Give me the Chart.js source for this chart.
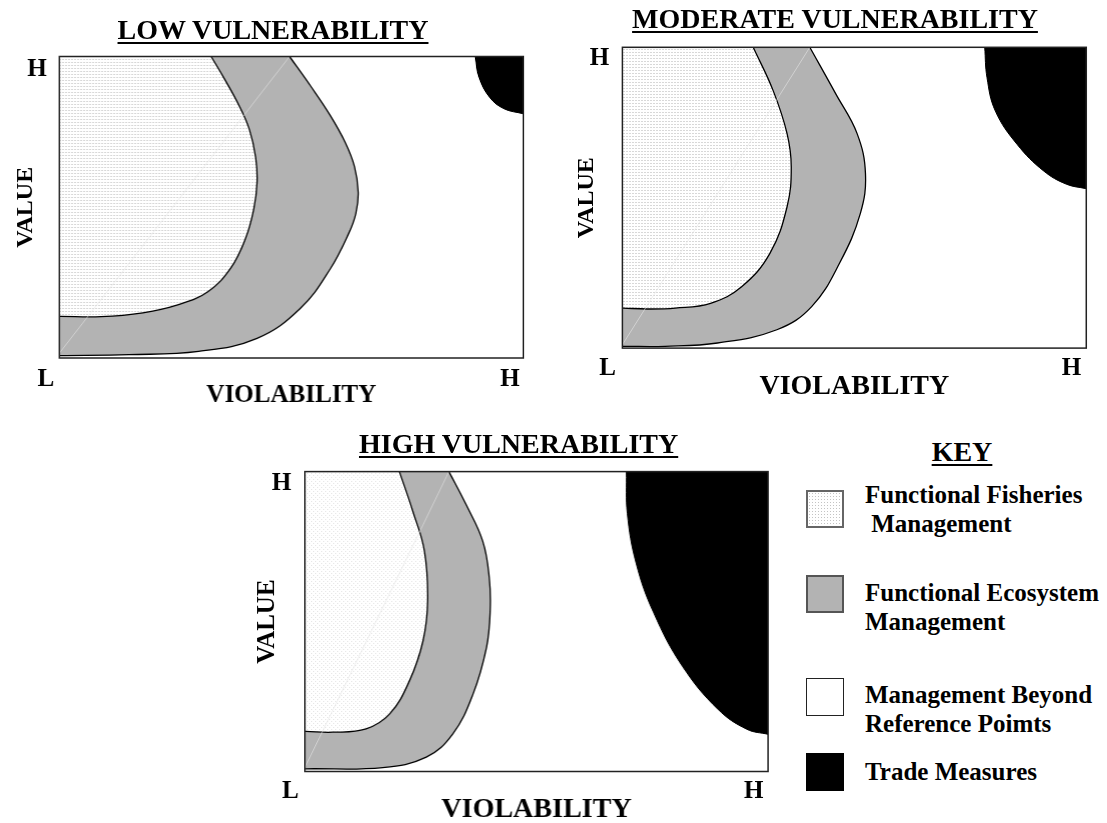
<!DOCTYPE html>
<html>
<head>
<meta charset="utf-8">
<script src="https://cdn.jsdelivr.net/npm/chart.js@4.4.1/dist/chart.umd.min.js"></script>
<style>
  html, body { margin: 0; padding: 0; background: #fff; overflow: hidden; }
  #page { position: relative; width: 1107px; height: 823px; background: #fff; overflow: hidden; }
  #page canvas { position: absolute; }
  .ttl { position: absolute; font: bold 28px/28px "Liberation Serif", "Times New Roman", serif; color: #000;
         text-decoration: underline; text-decoration-thickness: 2px; text-underline-offset: 3px;
         transform: translateX(-50%); white-space: nowrap; }
  .key { position: absolute; font: bold 25px/25px "Liberation Serif", "Times New Roman", serif; color: #000; white-space: pre; }
  .sw { position: absolute; box-sizing: border-box; width: 38px; height: 38px; }
</style>
</head>
<body>
<div id="page"></div>
<script>
// tick labels
const xTickValues = [0, 100];
const xTickLabels = ['L', 'H'];
const yTickValues = [100];
const yTickLabels = ['H'];

// panel titles
const panelTitles = ['LOW VULNERABILITY', 'MODERATE VULNERABILITY', 'HIGH VULNERABILITY'];

// boundaries, [violability, value] on a 0-100 scale
// inner = fisheries / ecosystem edge, outer = ecosystem / beyond edge, trade = trade measures edge
const lowInner = [[32.7,100],[35.6,92.5],[38.8,83.5],[41.0,75.5],[42.3,66.5],[42.6,58.3],[41.9,49.5],[40.1,39.6],[37.0,30.0],[32.0,22.0],[25.5,17.6],[18.0,15.0],[9.0,13.7],[0.2,13.8]];
const lowOuter = [[49.6,100],[54.1,90.3],[58.4,80.4],[61.6,71.5],[63.6,63.5],[64.4,55.0],[63.9,48.0],[62.4,41.5],[58.4,29.6],[51.9,16.4],[42.6,6.5],[30.0,2.2],[15.0,1.1],[0.2,0.8]];
const lowTrade = [[89.6,100],[90.4,93.2],[92.7,86.5],[95.8,82.7],[100,81.0]];

const modInner = [[28.2,100],[32.5,85.6],[35.5,71.3],[36.4,60.2],[35.5,47.0],[31.8,31.5],[25.7,20.4],[19.0,14.9],[11.4,13.3],[5.4,13.0],[0.2,13.3]];
const modOuter = [[40.4,100],[46.0,84.5],[50.6,71.3],[52.4,58.0],[51.3,44.8],[46.8,28.2],[40.8,13.8],[33.3,6.1],[20.5,1.7],[9.2,0.6],[0.2,0.6]];
const modTrade = [[78.1,100],[78.6,89.9],[80.4,78.8],[85.1,67.7],[90.8,58.9],[95.7,54.5],[100,53.0]];

const highInner = [[20.4,100],[23.3,86.8],[25.8,73.5],[26.5,56.9],[25.5,43.6],[22.6,30.3],[18.3,19.2],[13.2,14.2],[6.0,13.1],[0.2,13.4]];
const highOuter = [[31.1,100],[34.8,89.0],[38.4,76.8],[39.8,64.6],[40.0,53.6],[39.2,41.3],[36.3,25.8],[31.9,12.5],[26.2,4.8],[16.8,1.3],[0.2,0.9]];
const highTrade = [[69.4,100],[69.6,86.1],[71.5,69.5],[75.3,52.9],[81.5,35.1],[89.2,20.7],[95.4,14.1],[100,12.4]];

// key
const keyLabels = [['Functional Fisheries', ' Management'], ['Functional Ecosystem', 'Management'],
                   ['Management Beyond', 'Reference Poimts'], ['Trade Measures']];

const GREY = '#b3b3b3';
const SERIF = '"Liberation Serif", "Times New Roman", serif';
const page = document.getElementById('page');

function tile(w, h, color, cells) {
    const c = document.createElement('canvas');
    c.width = w; c.height = h;
    const g = c.getContext('2d');
    g.fillStyle = '#fff'; g.fillRect(0, 0, w, h);
    g.fillStyle = color;
    cells.forEach(([x, y]) => g.fillRect(x, y, 1, 1));
    return c;
}

const pt = ([x, y]) => ({x, y});
// push a curve end a little past the frame so the clip makes the edge
function ext(a, b) { return {x: a[0] + (a[0] - b[0]) * 0.6, y: a[1] + (a[1] - b[1]) * 0.6}; }

function leftShape(curve) {
    const n = curve.length;
    const top = ext(curve[0], curve[1]);
    const left = ext(curve[n - 1], curve[n - 2]);
    return [{x: -25, y: 130}, top, ...curve.map(pt), left, {x: -25, y: left.y}];
}
function tradeShape(curve) {
    const n = curve.length;
    const top = ext(curve[0], curve[1]);
    const right = ext(curve[n - 1], curve[n - 2]);
    return [top, ...curve.map(pt), right, {x: 125, y: right.y}, {x: 125, y: 130}];
}

const framePlugin = {
    id: 'frame',
    afterDatasetsDraw(chart) {
        const a = chart.chartArea, ctx = chart.ctx;
        ctx.save();
        ctx.strokeStyle = '#222';
        ctx.lineWidth = 1.5;
        ctx.strokeRect(a.left, a.top, a.right - a.left, a.bottom - a.top);
        ctx.restore();
    }
};

function makeConfig(p) {
    const font = size => ({family: SERIF, weight: 'bold', size});
    return {
        type: 'line',
        data: {
            datasets: [
                {data: tradeShape(p.trade), fill: 'shape', backgroundColor: '#000', borderColor: '#000', borderWidth: 1, order: 0},
                {data: [{x: 0, y: p.diag}, {x: p.outer[0][0], y: 100}], fill: false, tension: 0,
                 borderColor: 'rgba(230,230,230,0.6)', borderWidth: 1, order: 1},
                {data: leftShape(p.inner), fill: 'shape', backgroundColor: p.pattern, borderColor: '#000', borderWidth: 1.3, order: 2},
                {data: leftShape(p.outer), fill: 'shape', backgroundColor: GREY, borderColor: '#000', borderWidth: 1.3, order: 3}
            ]
        },
        options: {
            responsive: false,
            animation: false,
            events: [],
            layout: {padding: 0},
            elements: {
                point: {radius: 0},
                line: {tension: 0.4, capBezierPoints: false}
            },
            datasets: {line: {clip: 0}},
            plugins: {legend: {display: false}, tooltip: {enabled: false}},
            scales: {
                x: {
                    type: 'linear', min: 0, max: 100,
                    grid: {display: false, drawTicks: false},
                    border: {display: false},
                    afterBuildTicks: s => { s.ticks = xTickValues.map(v => ({value: v})); },
                    afterFit: s => { s.height = p.hx; },
                    ticks: {padding: p.tickPad, labelOffset: p.xOff, font: font(25), color: '#000',
                            autoSkip: false, maxRotation: 0, callback: (v, i) => xTickLabels[i]},
                    title: {display: true, text: 'VIOLABILITY', font: font(p.axisFont), color: '#000', padding: 0}
                },
                y: {
                    type: 'linear', min: 0, max: 100,
                    grid: {display: false, drawTicks: false},
                    border: {display: false},
                    afterBuildTicks: s => { s.ticks = yTickValues.map(v => ({value: v})); },
                    afterFit: s => { s.width = p.yw; },
                    ticks: {padding: p.yGap, labelOffset: p.yOff, font: font(25), color: '#000',
                            autoSkip: false, callback: (v, i) => yTickLabels[i]},
                    title: {display: true, text: 'VALUE', font: font(p.valueFont), color: '#000', padding: 0}
                }
            }
        },
        plugins: [framePlugin]
    };
}

function drawPanel(p) {
    let w = p.w + 120, h = p.h + 120;
    let canvas, chart;
    for (let pass = 0; pass < 2; pass++) {
        if (chart) { chart.destroy(); canvas.remove(); }
        canvas = document.createElement('canvas');
        canvas.width = w; canvas.height = h;
        canvas.style.width = w + 'px'; canvas.style.height = h + 'px';
        page.appendChild(canvas);
        chart = new Chart(canvas, makeConfig(p));
        const a = chart.chartArea;
        w += p.w - (a.right - a.left);
        h += p.h - (a.bottom - a.top);
    }
    const a = chart.chartArea;
    canvas.style.left = (p.x - a.left) + 'px';
    canvas.style.top = (p.y - a.top) + 'px';
}

const densePattern = tile(3, 3, '#d8d8d8', [[0, 0], [1, 0]]);
const sparsePattern = tile(4, 4, '#e4e4e4', [[0, 0], [2, 2]]);
const ctx0 = document.createElement('canvas').getContext('2d');

const panels = [
    {x: 59, y: 56, w: 464, h: 302, inner: lowInner, outer: lowOuter, trade: lowTrade, diag: 1.6,
     pattern: ctx0.createPattern(densePattern, 'repeat'),
     tickPad: 6.9, xOff: -13.4, yOff: 13, yGap: 12.5, yw: 48.3, hx: 53, axisFont: 25, valueFont: 24,
     titleX: 273, titleY: 15.5},
    {x: 622, y: 47, w: 464, h: 301, inner: modInner, outer: modOuter, trade: modTrade, diag: 1.1,
     pattern: ctx0.createPattern(densePattern, 'repeat'),
     tickPad: 5, xOff: -14.9, yOff: 11.7, yGap: 13.3, yw: 50.4, hx: 55.9, axisFont: 28, valueFont: 24,
     titleX: 835, titleY: 4.5},
    {x: 305, y: 472, w: 463, h: 300, inner: highInner, outer: highOuter, trade: highTrade, diag: 1.3,
     pattern: ctx0.createPattern(sparsePattern, 'repeat'),
     tickPad: 5.2, xOff: -14.4, yOff: 11.6, yGap: 13.6, yw: 51.8, hx: 55.5, axisFont: 28, valueFont: 25,
     titleX: 518.6, titleY: 430}
];

Chart.defaults.font.family = SERIF;
panels.forEach((p, i) => {
    drawPanel(p);
    const t = document.createElement('div');
    t.className = 'ttl';
    t.textContent = panelTitles[i];
    t.style.left = p.titleX + 'px';
    t.style.top = p.titleY + 'px';
    page.appendChild(t);
});

// key
const keyTitle = document.createElement('div');
keyTitle.className = 'ttl';
keyTitle.textContent = 'KEY';
keyTitle.style.left = '962px';
keyTitle.style.top = '438px';
page.appendChild(keyTitle);

const swatchTops = [490, 575, 678, 753];
const lineTops = [[482, 511], [580, 609], [682, 711], [759]];
const swatchStyles = [
    {background: 'url(' + tile(3, 3, '#c4c4c4', [[1, 1]]).toDataURL() + ')', border: '2px solid #666'},
    {background: GREY, border: '2px solid #555'},
    {background: '#fff', border: '1.5px solid #222'},
    {background: '#000', border: '1px solid #000'}
];
keyLabels.forEach((lines, i) => {
    const s = document.createElement('div');
    s.className = 'sw';
    s.style.left = '806px';
    s.style.top = swatchTops[i] + 'px';
    Object.assign(s.style, swatchStyles[i]);
    page.appendChild(s);
    lines.forEach((txt, j) => {
        const d = document.createElement('div');
        d.className = 'key';
        d.textContent = txt;
        d.style.left = '865px';
        d.style.top = lineTops[i][j] + 'px';
        page.appendChild(d);
    });
});
</script>
</body>
</html>
